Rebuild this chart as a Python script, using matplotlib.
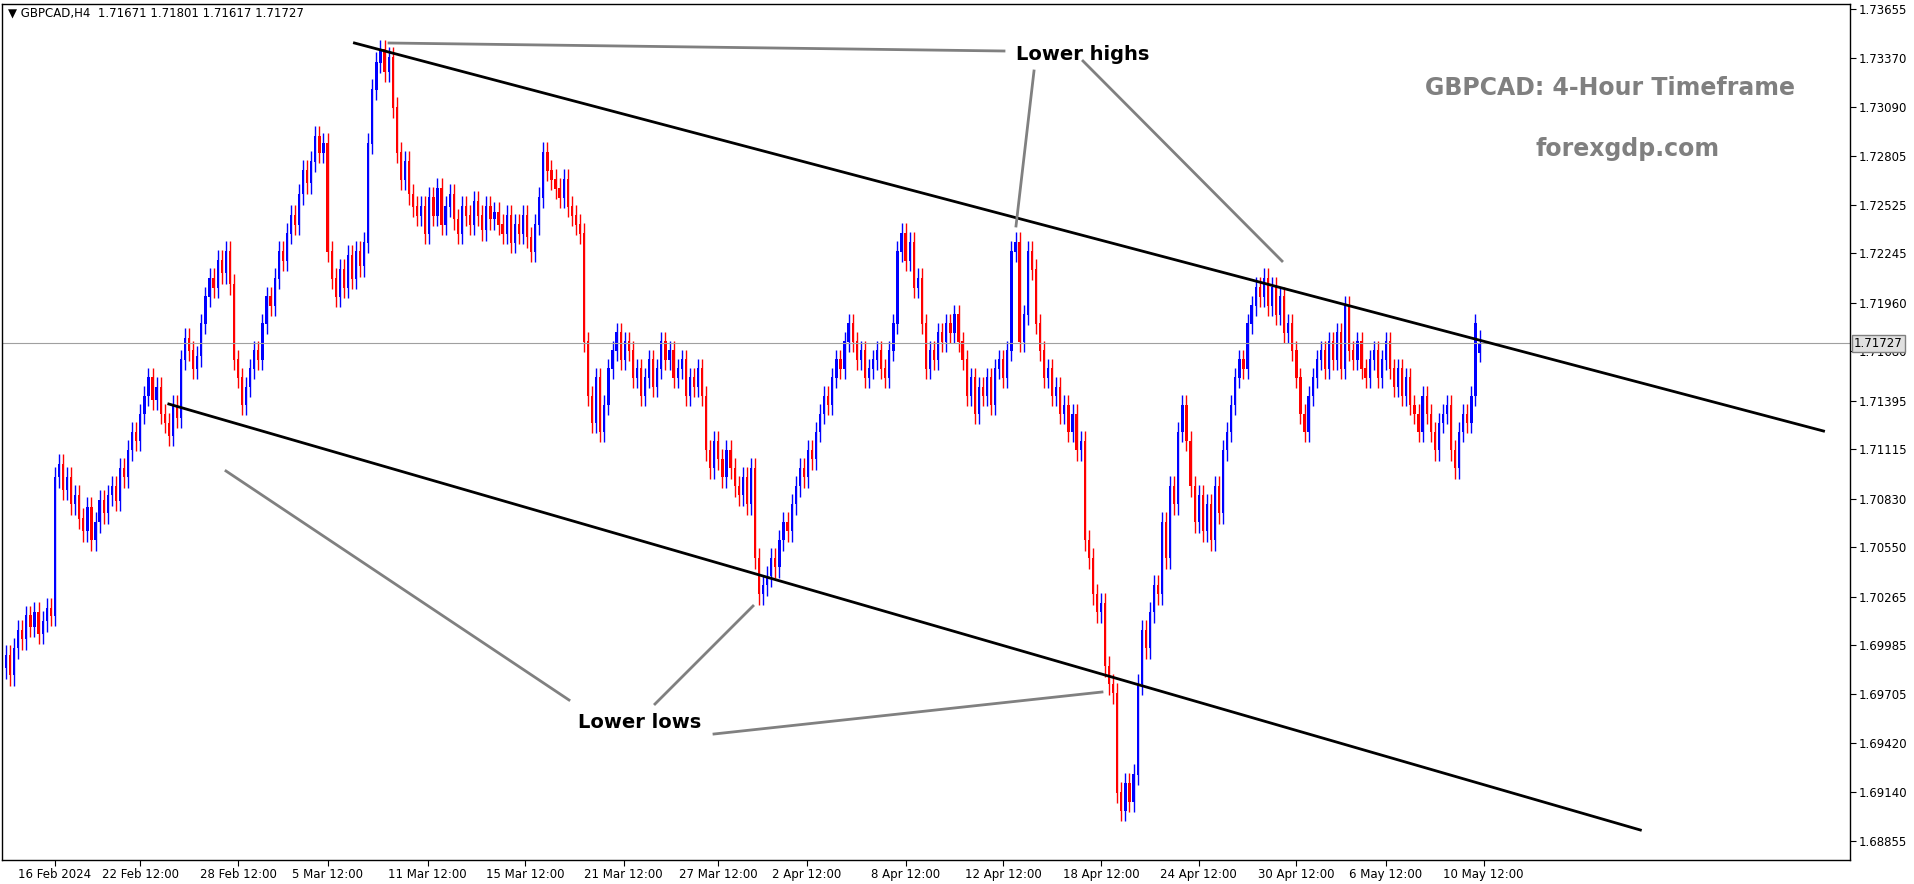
import numpy as np
import matplotlib.pyplot as plt

# H4 closes (rough pixel scale, corrected below)
closes_raw = [
    1.7006, 1.6995, 1.7010, 1.7020, 1.7015, 1.7028, 1.7022, 1.7030, 1.7018, 1.7025, 1.7032, 1.7028,
    1.7105, 1.7112,
    1.7098, 1.7105, 1.7090, 1.7095, 1.7082, 1.7075, 1.7088, 1.7070, 1.7080, 1.7092, 1.7085,
    1.7095, 1.7100, 1.7092, 1.7110, 1.7105, 1.7120, 1.7130, 1.7125, 1.7140, 1.7150, 1.7160, 1.7148,
    1.7155, 1.7140, 1.7135, 1.7128, 1.7145, 1.7138,
    1.7170, 1.7182, 1.7175, 1.7165, 1.7172,
    1.7190, 1.7205, 1.7215, 1.7210, 1.7225, 1.7218, 1.7230, 1.7212,
    1.7170, 1.7160, 1.7145, 1.7155,
    1.7165, 1.7175, 1.7170, 1.7190, 1.7205, 1.7200, 1.7215, 1.7230, 1.7225, 1.7240, 1.7250, 1.7245,
    1.7262, 1.7275, 1.7268, 1.7280,
    1.7294, 1.7285, 1.7290,
    1.7230, 1.7215, 1.7205, 1.7220, 1.7210,
    1.7228, 1.7215, 1.7230, 1.7222, 1.7235,
    1.7290, 1.7320, 1.7335, 1.7342, 1.7330, 1.7338, 1.7310,
    1.7285, 1.7270, 1.7280, 1.7262, 1.7255,
    1.7250, 1.7255, 1.7240, 1.7260, 1.7250, 1.7265, 1.7245, 1.7255, 1.7262, 1.7248,
    1.7240, 1.7255, 1.7250, 1.7245, 1.7258, 1.7250, 1.7242, 1.7255, 1.7248, 1.7252,
    1.7245, 1.7240, 1.7250, 1.7235, 1.7245, 1.7240, 1.7250, 1.7238, 1.7230, 1.7245,
    1.7260, 1.7285, 1.7275, 1.7270, 1.7265, 1.7260, 1.7270, 1.7255, 1.7250, 1.7245,
    1.7240, 1.7180, 1.7150, 1.7135, 1.7160, 1.7130, 1.7145,
    1.7165, 1.7175, 1.7185, 1.7170, 1.7180, 1.7175, 1.7160, 1.7165, 1.7150, 1.7160, 1.7170, 1.7155,
    1.7165, 1.7180, 1.7170, 1.7175, 1.7160, 1.7165, 1.7170, 1.7150, 1.7160, 1.7155, 1.7165,
    1.7150, 1.7120, 1.7110, 1.7125, 1.7115, 1.7105, 1.7120, 1.7110, 1.7100, 1.7095, 1.7105, 1.7090,
    1.7110, 1.7060, 1.7040, 1.7045,
    1.7050, 1.7060, 1.7055, 1.7070, 1.7080, 1.7075, 1.7090, 1.7100, 1.7110, 1.7105, 1.7120, 1.7115,
    1.7130, 1.7140, 1.7150, 1.7145, 1.7160, 1.7170, 1.7165, 1.7180, 1.7190,
    1.7180, 1.7170, 1.7175, 1.7160, 1.7165, 1.7170, 1.7175, 1.7165, 1.7160, 1.7175, 1.7190,
    1.7230, 1.7240, 1.7225, 1.7235, 1.7210, 1.7215,
    1.7190, 1.7165, 1.7175, 1.7170, 1.7185, 1.7180, 1.7190, 1.7185, 1.7195, 1.7180, 1.7170,
    1.7150, 1.7160, 1.7140, 1.7155, 1.7150, 1.7160, 1.7145, 1.7165, 1.7170, 1.7160, 1.7175,
    1.7230, 1.7235, 1.7180, 1.7195, 1.7230, 1.7220,
    1.7190, 1.7175, 1.7160, 1.7165, 1.7150, 1.7155, 1.7140, 1.7145, 1.7130, 1.7140, 1.7120, 1.7125,
    1.7070, 1.7060, 1.7040, 1.7030, 1.7035, 1.7000, 1.6990, 1.6985,
    1.6930, 1.6920, 1.6935, 1.6925, 1.6940, 1.6990,
    1.7020, 1.7010, 1.7030, 1.7045, 1.7040, 1.7080, 1.7060, 1.7100, 1.7090, 1.7130, 1.7145, 1.7125,
    1.7100, 1.7080, 1.7095, 1.7075, 1.7090, 1.7070, 1.7100, 1.7085, 1.7120, 1.7130,
    1.7145, 1.7160, 1.7170, 1.7165, 1.7190, 1.7200, 1.7210, 1.7205, 1.7215, 1.7200, 1.7210,
    1.7195, 1.7205, 1.7185, 1.7190, 1.7175, 1.7160, 1.7140, 1.7130, 1.7150, 1.7160, 1.7170,
    1.7175, 1.7165, 1.7180, 1.7170, 1.7185, 1.7165, 1.7200, 1.7175, 1.7170, 1.7180, 1.7165,
    1.7160, 1.7170, 1.7175, 1.7160, 1.7170, 1.7180, 1.7165, 1.7155, 1.7165, 1.7150, 1.7160, 1.7145,
    1.7140, 1.7130, 1.7150, 1.7140, 1.7130, 1.7120, 1.7135, 1.7140, 1.7145, 1.7120, 1.7110,
    1.7130, 1.7140, 1.7135, 1.7150, 1.7190,
]
last_ohlc = [1.71671, 1.71801, 1.71617, 1.71727]

price_ticks = [1.73655, 1.73370, 1.73090, 1.72805, 1.72525, 1.72245, 1.71960, 1.71680, 1.71395,
               1.71115, 1.70830, 1.70550, 1.70265, 1.69985, 1.69705, 1.69420, 1.69140, 1.68855]
date_labels = ['16 Feb 2024', '22 Feb 12:00', '28 Feb 12:00', '5 Mar 12:00', '11 Mar 12:00',
               '15 Mar 12:00', '21 Mar 12:00', '27 Mar 12:00', '2 Apr 12:00', '8 Apr 12:00',
               '12 Apr 12:00', '18 Apr 12:00', '24 Apr 12:00', '30 Apr 12:00', '6 May 12:00',
               '10 May 12:00']
date_pos = [12, 33, 57, 79, 103.6, 127.6, 151.7, 175, 196.7, 221, 245, 269, 293, 317, 339, 363]

# trend channel endpoints (candle index, price)
upper_line = ([85.6, 446.5], [1.73459, 1.71220])
lower_line = ([40, 401.5], [1.71376, 1.68918])

# small correction of the rough pixel reading to the real price scale
closes = list(1.7345 - 1.04 * (1.7345 - np.array(closes_raw)))
closes.append(last_ohlc[3])
closes = np.array(closes)
opens = np.concatenate([[1.6985], closes[:-1]])
opens[-1] = last_ohlc[0]
wick = 0.0006
highs = np.maximum(opens, closes) + wick
lows = np.minimum(opens, closes) - wick
highs[-1] = last_ohlc[1]
lows[-1] = last_ohlc[2]

W, H = 1914, 884
fig = plt.figure(figsize=(W / 100, H / 100), dpi=100)
ax = fig.add_axes([0.001, 1 - 860 / H, 1850 / W - 0.001, 856 / H])

x = np.arange(len(closes))
up = closes >= opens
col = np.where(up, '#0000ff', '#ff0000')
ax.vlines(x, lows, highs, colors=col, linewidth=1)
ax.bar(x, np.abs(closes - opens) + 0.00003, bottom=np.minimum(opens, closes), width=0.55,
       color=col, linewidth=0)

ax.axhline(last_ohlc[3], color='#a0a0a0', linewidth=0.8)
ax.plot(*upper_line, color='black', linewidth=2)
ax.plot(*lower_line, color='black', linewidth=2)

ax.set_xlim(-1, 453)
ax.set_ylim(1.68745, 1.73684)
ax.yaxis.tick_right()
ax.set_yticks(price_ticks)
ax.set_yticklabels(['%.5f' % p for p in price_ticks], fontsize=8.5)
ax.set_xticks(date_pos)
ax.set_xticklabels(date_labels, fontsize=8.5)
ax.tick_params(length=4, pad=2)
for s in ax.spines.values():
    s.set_linewidth(1)

ax.text(1.002, last_ohlc[3], '%.5f' % last_ohlc[3], transform=ax.get_yaxis_transform(),
        fontsize=8.5, va='center', ha='left',
        bbox=dict(facecolor='#e0e0e0', edgecolor='#808080', pad=1.5))


def px(x, y):
    return x / W, 1 - y / H


# annotation lines in figure pixels
ann_lines = [((389, 43), (1004, 51)), ((1034, 71), (1016, 226)), ((1083, 61), (1282, 261)),
             ((569, 700), (226, 471)), ((655, 704), (753, 606)), ((714, 734), (1102, 692))]
for a, b in ann_lines:
    (x0, y0), (x1, y1) = px(*a), px(*b)
    fig.add_artist(plt.Line2D([x0, x1], [y0, y1], color='#808080', linewidth=2,
                              transform=fig.transFigure))

fig.text(*px(1083, 55), 'Lower highs', ha='center', va='center', fontsize=14, fontweight='bold')
fig.text(*px(640, 722), 'Lower lows', ha='center', va='center', fontsize=14, fontweight='bold')
fig.text(*px(1610, 88), 'GBPCAD: 4-Hour Timeframe', ha='center', va='center', fontsize=17,
         fontweight='bold', color='#808080')
fig.text(*px(1628, 149), 'forexgdp.com', ha='center', va='center', fontsize=17,
         fontweight='bold', color='#808080')
fig.text(*px(8, 13), '\u25BC GBPCAD,H4  1.71671 1.71801 1.71617 1.71727', ha='left', va='center',
         fontsize=8.5)

fig.savefig('out.png', dpi=100)
